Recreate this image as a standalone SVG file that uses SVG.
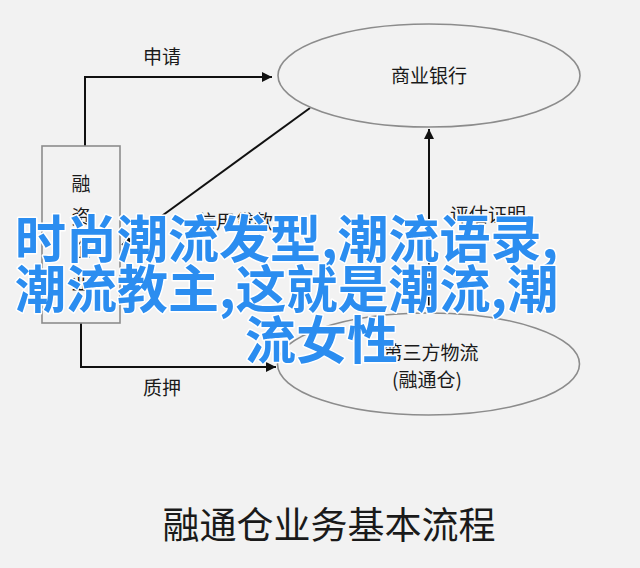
<svg xmlns="http://www.w3.org/2000/svg" width="640" height="568" viewBox="0 0 640 568">
<defs>
<style>
.bg{fill:#f2f2f2}
.node{fill:none;stroke:#8c8c8c;stroke-width:1.6}
.lbl{font-family:"Noto Sans CJK SC","Noto Sans",sans-serif;font-size:19px;fill:#1a1a1a;text-anchor:middle}
.edge{fill:none;stroke:#111;stroke-width:2}
.title{font-family:"Noto Sans CJK SC","Noto Sans",sans-serif;font-size:37px;fill:#1a1a1a;text-anchor:middle}
.over{font-family:"Noto Sans CJK SC","Noto Sans",sans-serif;font-size:51px;font-weight:bold;fill:#2b8df0;stroke:#ffffff;stroke-width:3;paint-order:stroke;stroke-linejoin:round}
</style>
<marker id="arr" viewBox="0 0 10 10" refX="10" refY="5" markerWidth="6" markerHeight="5" markerUnits="strokeWidth" orient="auto">
<path d="M0,0 L10,5 L0,10 z" fill="#111"/>
</marker>
</defs>
<rect class="bg" x="0" y="0" width="640" height="568"/>
<g id="connectors">
<polyline id="e-apply" class="edge" points="85,146 85,77 272,77" marker-end="url(#arr)"/>
<text class="lbl" x="162" y="64">申请</text>
<line id="e-loan" class="edge" x1="310" y1="108" x2="122" y2="245" marker-end="url(#arr)"/>
<text class="lbl" x="235" y="229">信用贷款</text>
<line id="e-eval" class="edge" x1="429" y1="313" x2="429" y2="129" marker-end="url(#arr)"/>
<text class="lbl" x="488" y="222">评估证明</text>
<polyline id="e-pledge" class="edge" points="81,323 81,367 276,367" marker-end="url(#arr)"/>
<text class="lbl" x="162" y="395">质押</text>
</g>
<g id="node-firm">
<rect class="node" x="42" y="146" width="78" height="177"/>
<text class="lbl" x="81" y="191">融</text>
<text class="lbl" x="81" y="224">资</text>
<text class="lbl" x="81" y="257">企</text>
<text class="lbl" x="81" y="290">业</text>
</g>
<g id="node-bank">
<ellipse class="node" cx="429" cy="75.5" rx="151" ry="51.5"/>
<text class="lbl" x="429" y="83">商业银行</text>
</g>
<g id="node-logistics">
<ellipse class="node" cx="428.5" cy="364" rx="151" ry="51"/>
<text class="lbl" x="431" y="360">第三方物流</text>
<text class="lbl" x="427" y="387">(融通仓)</text>
</g>
<text class="title" x="329" y="539">融通仓业务基本流程</text>
<g id="overlay">
<text class="over" x="15" y="258">时尚潮流发型,潮流语录,</text>
<text class="over" x="15" y="308">潮流教主,这就是潮流,潮</text>
<text class="over" x="245" y="359">流女性</text>
</g>
</svg>
